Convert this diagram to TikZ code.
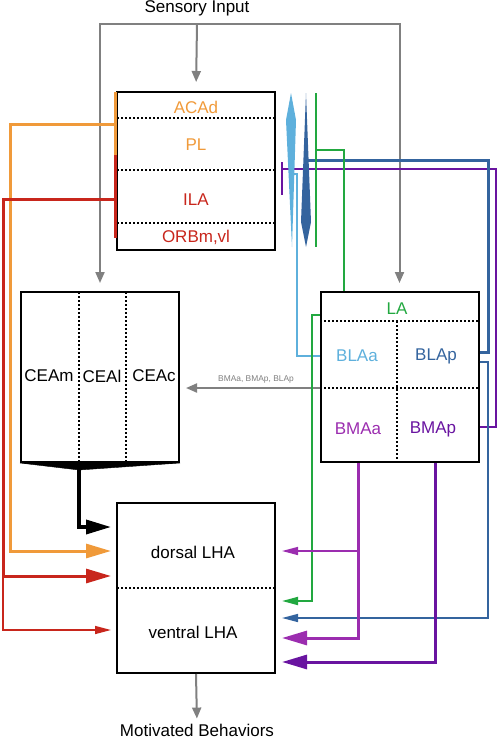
\documentclass[tikz,border=0pt]{standalone}
\usepackage{fontspec}
\setmainfont{Liberation Sans}
\usetikzlibrary{arrows.meta}
\definecolor{acadorange}{RGB}{240, 154,  58}
\definecolor{ilared}{RGB}{200,  38,  28}
\definecolor{lagreen}{RGB}{ 34, 168,  64}
\definecolor{blaablue}{RGB}{ 94, 176, 220}
\definecolor{blapblue}{RGB}{ 52, 100, 158}
\definecolor{bmaamagenta}{RGB}{155,  45, 175}
\definecolor{bmappurple}{RGB}{105,  20, 160}
\definecolor{feedgray}{RGB}{128, 128, 128}

\tikzset{
  region/.style   = {draw=black, line width=2pt, minimum width=158pt, inner sep=0pt},
  lbl/.style      = {font=\fontsize{17}{19}\selectfont, inner sep=0pt},
  sepline/.style  = {line width=1.8pt, dash pattern=on 1.8pt off 2.2pt},
  feed/.style     = {feedgray, line width=2pt, -{Triangle[length=11pt,width=9pt]}},
  bigtip/.style   = {-{Triangle[length=25pt,width=14pt]}},
  smalltip/.style = {-{Triangle[length=16pt,width=8pt]}},
}

\begin{document}
\begin{tikzpicture}[x=1pt, y=-1pt]
  \useasboundingbox (0,0) rectangle (497,740);

  \node[region, minimum height=158pt] (pfc) at (196,171) {};
  \node[region, minimum height=170pt] (cea) at (100,377) {};
  \node[region, minimum height=170pt] (la)  at (399.5,377) {};
  \node[region, minimum height=170pt] (lha) at (196,588) {};

  \node[lbl]                    (sens)   at (197,  8) {Sensory Input};
  \node[lbl]                    (mot)    at (197,730) {Motivated Behaviors};
  \node[lbl, color=acadorange]  (acad)   at (196,107) {ACAd};
  \node[lbl, color=acadorange]  (pl)     at (196,145) {PL};
  \node[lbl, color=ilared]      (ila)    at (196,200) {ILA};
  \node[lbl, color=ilared]      (orb)    at (196,237) {ORBm,vl};
  \node[lbl]                    (ceam)   at ( 49,376) {CEAm};
  \node[lbl]                    (ceal)   at (102,376) {CEAl};
  \node[lbl]                    (ceac)   at (154,376) {CEAc};
  \node[lbl, color=lagreen]     (lalbl)  at (397,309) {LA};
  \node[lbl, color=blaablue]    (blaa)   at (357,356) {BLAa};
  \node[lbl, color=blapblue]    (blap)   at (436,356) {BLAp};
  \node[lbl, color=bmaamagenta] (bmaa)   at (358,429) {BMAa};
  \node[lbl, color=bmappurple]  (bmap)   at (433,429) {BMAp};
  \node[lbl]                    (dlha)   at (193,552) {dorsal LHA};
  \node[lbl]                    (vlha)   at (193,632) {ventral LHA};
  \node[font=\fontsize{8.4}{10}\selectfont, color=feedgray, inner sep=0pt] (feedlbl) at (256,379) {BMAa, BMAp, BLAp};

  \draw[sepline] (117,118) -- (275,118);
  \draw[sepline] (117,170) -- (275,170);
  \draw[sepline] (117,223) -- (275,223);
  \draw[sepline] ( 79,292) -- ( 79,462);
  \draw[sepline] (126,292) -- (126,462);
  \draw[sepline] (320,321) -- (479,321);
  \draw[sepline] (320,388) -- (479,388);
  \draw[sepline] (397,321) -- (397,462);
  \draw[sepline] (117,588) -- (275,588);

  \coordinate (in)        at (197, 24);
  \coordinate (lasep)     at (320,388);
  \draw[feed, shorten >=9pt] (in) -- (pfc.north);
  \draw[feed, shorten >=8pt] (in) -| (cea.north);
  \draw[feed, shorten >=8pt] (in) -| (la.north);
  \draw[feed, shorten >=6pt] (lasep) -- (cea.east |- lasep);
  \draw[feed, shorten >=5pt] (lha.south) -- (mot.north);

  \filldraw[black] (cea.south west) -- (cea.south east) -- (79,470) -- cycle;
  \coordinate (ceaout)    at ( 79,469);
  \coordinate (blackbend) at ( 79,527);
  \draw[black, line width=3.5pt, bigtip, shorten >=5pt] (ceaout) -- (blackbend) -- (lha.west |- blackbend);

  \draw[acadorange, line width=3pt] (115, 92) -- (115,155);
  \draw[ilared,     line width=3pt] (115,155) -- (115,238);
  \coordinate (acadtap)    at (115,124);
  \coordinate (orangebend) at ( 10,551);
  \coordinate (ilatap)     at (115,199);
  \coordinate (redbend)    at (  3,576);
  \coordinate (redlow)     at (  3,630);
  \draw[acadorange, line width=3pt,   bigtip,   shorten >=5pt] (acadtap) -| (orangebend) -- (lha.west |- orangebend);
  \draw[ilared,     line width=3pt,   bigtip,   shorten >=5pt] (ilatap) -| (redbend) -- (lha.west |- redbend);
  \draw[ilared,     line width=1.5pt, smalltip, shorten >=5pt] (redbend) -- (redlow) -- (lha.west |- redlow);

  \coordinate (purplet)    at (282,169);
  \coordinate (purpleknee) at (496,169);
  \coordinate (purpledown) at (496,427);
  \draw[bmappurple, line width=2pt] (282,162) -- (282,195);
  \draw[bmappurple, line width=2pt] (purplet) -- (purpleknee) -- (purpledown) -- (la.east |- purpledown);

  \coordinate (blapjoin)   at (307,160);
  \coordinate (blapknee)   at (488,160);
  \coordinate (blapthick)  at (488,352);
  \draw[blapblue, line width=3pt] (blapjoin) -- (blapknee) -- (blapthick) -- (la.east |- blapthick);
  \coordinate (blapthin)   at (488,362);
  \coordinate (bluebend)   at (488,618);
  \draw[blapblue, line width=1.5pt, smalltip, shorten >=6pt] (la.east |- blapthin) -- (blapthin) -- (bluebend) -- (lha.east |- bluebend);

  \coordinate (blaaup)     at (297,174);
  \coordinate (blaatip)    at (291,174);
  \draw[blaablue, line width=2.5pt] (la.west |- blaa) -| (blaaup) -- (blaatip);

  \draw[lagreen, line width=1.8pt] (316,93) -- (316,247);
  \coordinate (greenjoin)  at (316,150);
  \coordinate (greenknee)  at (344,150);
  \draw[lagreen, line width=1.8pt] (greenjoin) -- (greenknee) -- (la.north -| greenknee);
  \coordinate (greenin)    at (312,315);
  \coordinate (greenbend)  at (312,601);
  \draw[lagreen, line width=1.8pt, smalltip, shorten >=6pt] (la.west |- greenin) -- (greenin) -- (greenbend) -- (lha.east |- greenbend);

  \fill[blaablue] (291, 93) -- (296,120) -- (292,247) -- (286,120) -- cycle;
  \fill[blapblue] (306, 93) -- (311,222) -- (306,247) -- (301,222) -- cycle;

  \coordinate (magbranch)  at (358,551);
  \coordinate (magbend)    at (358,638);
  \coordinate (purplebend) at (435,662);
  \draw[bmaamagenta, line width=3pt,   bigtip,   shorten >=6pt] (la.south -| bmaa) -- (magbend) -- (lha.east |- magbend);
  \draw[bmaamagenta, line width=1.5pt, smalltip, shorten >=6pt] (magbranch) -- (lha.east |- magbranch);
  \draw[bmappurple,  line width=3pt,   bigtip,   shorten >=6pt] (la.south -| purplebend) -- (purplebend) -- (lha.east |- purplebend);
\end{tikzpicture}
\end{document}
